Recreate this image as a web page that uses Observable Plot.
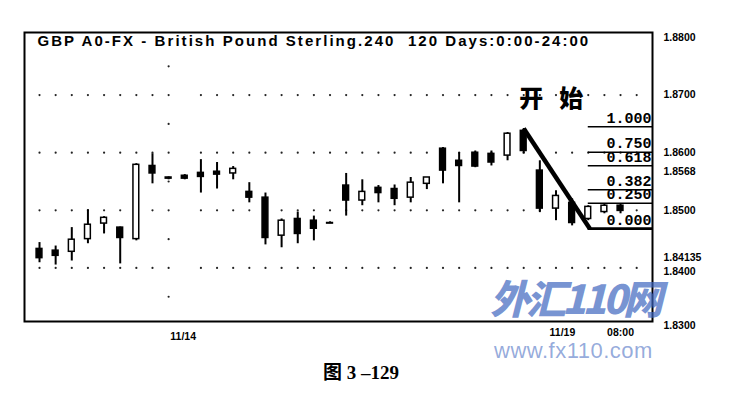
<!DOCTYPE html>
<html><head><meta charset="utf-8">
<script src="https://cdn.jsdelivr.net/npm/d3@7"></script>
<script src="https://cdn.jsdelivr.net/npm/@observablehq/plot@0.6"></script>
<style>
body{margin:0;background:#fff;}
#wrap{position:relative;width:734px;height:404px;overflow:hidden;background:#fff;}
#chart{position:absolute;left:0;top:0;}
#cap{position:absolute;top:357px;left:-6px;width:734px;text-align:center;font:bold 19px "Liberation Serif","Noto Sans CJK SC",serif;color:#000;}
#wm1{position:absolute;left:490px;top:279px;height:36px;font:italic 900 40px/36px "Noto Sans CJK SC",sans-serif;color:rgba(60,100,190,0.7);letter-spacing:-4px;white-space:nowrap;}
#wm2{position:absolute;left:494px;top:340px;font:22px/22px "Liberation Sans",sans-serif;color:rgba(60,100,190,0.55);letter-spacing:0.5px;white-space:nowrap;}
</style></head>
<body><div id="wrap"><div id="chart"></div><div id="cap"></div><div id="wm1"></div><div id="wm2"></div></div>
<script>
const titleText = "GBP A0-FX - British Pound Sterling.240  120 Days:0:00-24:00";
const candleIndex = d3.range(0, 37);
const openPrices  = [1.8433,1.8430,1.8428,1.8450,1.8477,1.8470,1.8450,1.8577,1.8557,1.8560,1.8565,1.8567,1.8564,1.8532,1.8522,1.8456,1.8485,1.8482,1.8478,1.8543,1.8517,1.8539,1.8537,1.8522,1.8546,1.8607,1.8586,1.8600,1.8598,1.8595,1.8638,1.8569,1.8503,1.8513,1.8485,1.8497,1.8508];
const highPrices  = [1.8444,1.8438,1.8470,1.8501,1.8489,1.8471,1.8581,1.8598,1.8558,1.8562,1.8588,1.8583,1.8576,1.8548,1.8530,1.8485,1.8497,1.8490,1.8480,1.8564,1.8553,1.8543,1.8544,1.8557,1.8557,1.8609,1.8600,1.8603,1.8603,1.8635,1.8642,1.8586,1.8534,1.8520,1.8508,1.8511,1.8511];
const lowPrices   = [1.8409,1.8405,1.8412,1.8442,1.8459,1.8407,1.8447,1.8546,1.8553,1.8553,1.8530,1.8537,1.8553,1.8513,1.8440,1.8435,1.8442,1.8447,1.8477,1.8490,1.8508,1.8513,1.8508,1.8513,1.8536,1.8546,1.8513,1.8574,1.8577,1.8586,1.8598,1.8496,1.8482,1.8473,1.8482,1.8494,1.8494];
const closePrices = [1.8417,1.8421,1.8449,1.8475,1.8487,1.8452,1.8579,1.8564,1.8555,1.8555,1.8558,1.8562,1.8572,1.8522,1.8452,1.8482,1.8459,1.8468,1.8477,1.8517,1.8532,1.8530,1.8520,1.8548,1.8557,1.8569,1.8577,1.8576,1.8583,1.8633,1.8603,1.8503,1.8525,1.8478,1.8506,1.8508,1.8499];

const priceTicks = [1.88,1.87,1.86,1.8568,1.85,1.84135,1.84,1.83];
const priceTickLabels = ["1.8800","1.8700","1.8600","1.8568","1.8500","1.84135","1.8400","1.8300"];
const dateTicksLow = [8.9];
const dateLabelsLow = ["11/14"];
const dateTicksHigh = [32.4, 36.0];
const dateLabelsHigh = ["11/19", "08:00"];
const gridLevels = [1.87,1.86,1.85,1.84];
const gridColumns = d3.range(0, 38).filter(i => i !== 9);
const vGridColumn = 8;
const vGridLevels = [1.875,1.865,1.855,1.845,1.835];

const fibRatios = [1, 0.75, 0.618, 0.382, 0.25, 0];
const fibLabels = ["1.000","0.750","0.618","0.382","0.250","0.000"];
const fibHigh = 1.8645, fibLow = 1.8468;
const fibStartX = 34;
const trendX = [30, 34.1];
const trendY = [1.8642, 1.8468];
const noteText = "开始", noteX = 32.2, noteY = 1.8692;
const captionText = "图 3 –129";

const xMin = -0.93, xMax = 37.98;
const candles = candleIndex.map((i, k) => ({i, open: openPrices[k], high: highPrices[k], low: lowPrices[k], close: closePrices[k]}));
const fib = fibRatios.map((r, k) => ({price: fibLow + r * (fibHigh - fibLow), label: fibLabels[k], w: r === 0 ? 2.5 : 1.5}));
const gridDots = gridLevels.flatMap(l => gridColumns.map(i => ({i, l})));
const vDots = vGridLevels.map(l => ({i: vGridColumn, l}));
const trend = trendX.map((x, k) => ({x, y: trendY[k]}));

const plot = Plot.plot({
  width: 734, height: 350,
  marginLeft: 24, marginRight: 82, marginTop: 32, marginBottom: 29,
  x: {type: "linear", domain: [xMin, xMax]},
  y: {domain: [1.8307, 1.88087]},
  style: {fontFamily: "Liberation Sans, Arial, sans-serif", background: "#fff", color: "#000"},
  marks: [
    Plot.dot(gridDots, {x: "i", y: "l", r: 1.1, fill: "#222", stroke: null}),
    Plot.dot(vDots, {x: "i", y: "l", r: 1.1, fill: "#222", stroke: null}),
    Plot.ruleX(candles, {x: "i", y1: "low", y2: "high", stroke: "#000", strokeWidth: 2}),
    Plot.rect(candles, {x1: d => d.i - 0.18, x2: d => d.i + 0.18, y1: "open", y2: "close",
      fill: d => d.close < d.open ? "#000" : "#fff", stroke: "#000", strokeWidth: 1.5}),
    Plot.ruleY(fib, {y: "price", x1: fibStartX, x2: xMax, stroke: "#000", strokeWidth: "w"}),
    Plot.ruleY([fibLow], {x1: trendX[1], x2: xMax, stroke: "#000", strokeWidth: 2.5}),
    Plot.line(trend, {x: "x", y: "y", stroke: "#000", strokeWidth: 4.5, strokeLinecap: "butt"}),
    Plot.text(fib, {y: "price", text: "label", frameAnchor: "right", textAnchor: "end", lineAnchor: "bottom",
      dx: -1, dy: -4, fontFamily: "Liberation Mono, monospace", fontWeight: "bold", fontSize: 15, fill: "#000"}),
    Plot.text([noteText], {x: noteX, y: noteY, text: d => d, fontFamily: "Noto Sans CJK SC", fontWeight: 900,
      fontSize: 24, fill: "#000"}),
    Plot.text([titleText], {text: d => d, frameAnchor: "top-left", textAnchor: "start", lineAnchor: "top",
      dx: 13, dy: 3, fontWeight: "bold", fontSize: 15, fill: "#000"}),
    Plot.frame({stroke: "#000", strokeWidth: 2}),
    Plot.axisY(priceTicks.filter(t => t !== 1.84135 && t !== 1.84), {anchor: "right", tickSize: 0, tickPadding: 11,
      tickFormat: t => priceTickLabels[priceTicks.indexOf(t)], fontSize: 10.5, fontWeight: "bold", label: null}),
    Plot.axisY([1.84135], {anchor: "right", tickSize: 0, tickPadding: 11, dy: -3,
      tickFormat: t => priceTickLabels[priceTicks.indexOf(t)], fontSize: 10.5, fontWeight: "bold", label: null}),
    Plot.axisY([1.84], {anchor: "right", tickSize: 0, tickPadding: 11, dy: 4,
      tickFormat: t => priceTickLabels[priceTicks.indexOf(t)], fontSize: 10.5, fontWeight: "bold", label: null}),
    Plot.axisX(dateTicksLow, {anchor: "bottom", tickSize: 0, tickPadding: 11,
      tickFormat: t => dateLabelsLow[dateTicksLow.indexOf(t)], fontSize: 10.5, fontWeight: "bold", label: null}),
    Plot.axisX(dateTicksHigh, {anchor: "bottom", tickSize: 0, tickPadding: 7,
      tickFormat: t => dateLabelsHigh[dateTicksHigh.indexOf(t)], fontSize: 10.5, fontWeight: "bold", label: null})
  ]
});
d3.select(plot).selectAll("text").each(function() {
  const t = this.textContent;
  if (t === titleText) this.setAttribute("letter-spacing", "2.05");
  if (t === noteText) this.setAttribute("letter-spacing", "16");
});
document.getElementById("chart").appendChild(plot);
document.getElementById("cap").textContent = captionText;
document.getElementById("wm1").textContent = "外汇110网";
document.getElementById("wm2").textContent = "www.fx110.com";
</script>
</body></html>
